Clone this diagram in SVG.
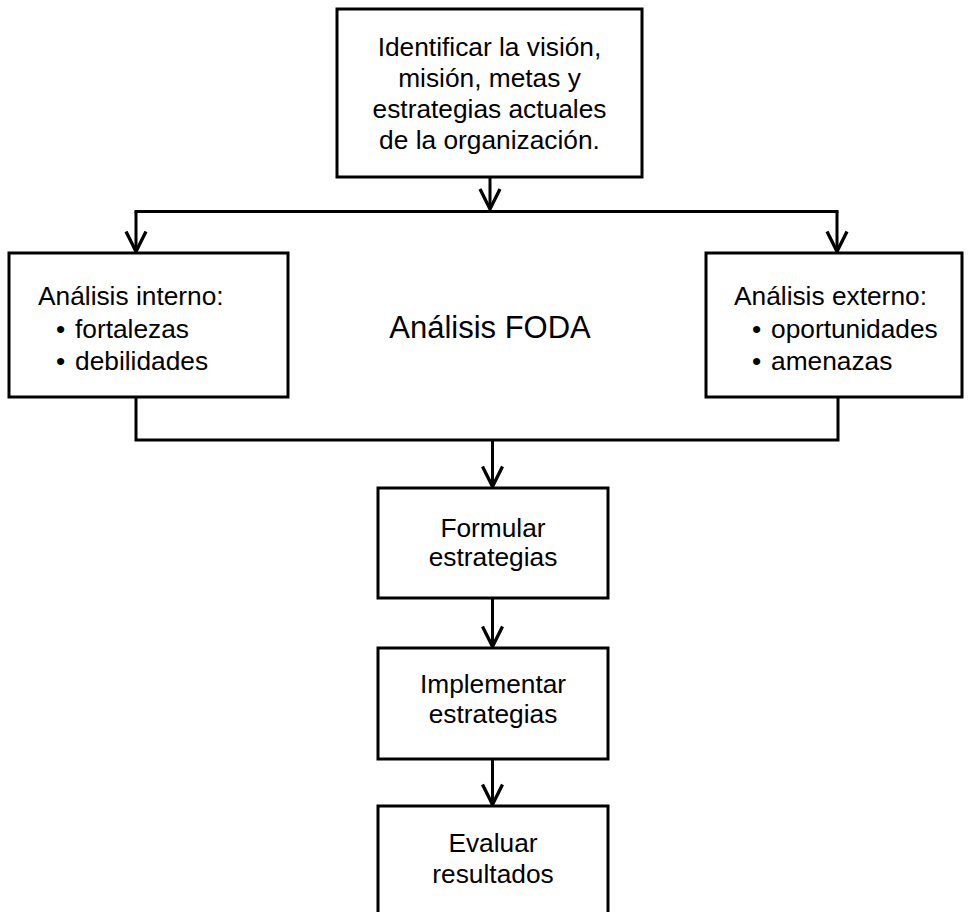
<svg xmlns="http://www.w3.org/2000/svg" width="972" height="912" viewBox="0 0 972 912">
  <style>
    .box { fill: #ffffff; stroke: #000000; stroke-width: 3; }
    .conn { fill: none; stroke: #000000; stroke-width: 3; }
    .t { font-family: "Liberation Sans", Arial, sans-serif; font-size: 26.3px; fill: #000000; }
    .c { text-anchor: middle; }
    .big { font-family: "Liberation Sans", Arial, sans-serif; font-size: 31px; fill: #000000; text-anchor: middle; }
  </style>
  <defs>
    <marker id="arrow" markerUnits="userSpaceOnUse" markerWidth="40" markerHeight="40" refX="0" refY="0" orient="auto" overflow="visible">
      <path d="M -20 -10 L 0 0 L -20 10" fill="none" stroke="#000000" stroke-width="3.3" stroke-linejoin="miter"/>
    </marker>
  </defs>
  <rect width="972" height="912" fill="#ffffff"/>

  <g id="connectors">
    <path class="conn" d="M 134.5 211.5 L 838.5 211.5"/>
    <path class="conn" d="M 136 211.5 L 136 251.5" marker-end="url(#arrow)"/>
    <path class="conn" d="M 837 211.5 L 837 251.5" marker-end="url(#arrow)"/>
    <path class="conn" d="M 490 177 L 490 209" marker-end="url(#arrow)"/>
    <path class="conn" d="M 136 397 L 136 440 L 838 440 L 838 397"/>
    <path class="conn" d="M 492.5 440 L 492.5 486.5" marker-end="url(#arrow)"/>
    <path class="conn" d="M 492.5 598 L 492.5 646.5" marker-end="url(#arrow)"/>
    <path class="conn" d="M 492.5 759 L 492.5 804.5" marker-end="url(#arrow)"/>
  </g>

  <g id="node-identificar">
    <rect class="box" x="337" y="9" width="305" height="168"/>
    <text class="t c" x="489.5" y="55.5">Identificar la visión,</text>
    <text class="t c" x="489.5" y="86.5">misión, metas y</text>
    <text class="t c" x="489.5" y="117.5">estrategias actuales</text>
    <text class="t c" x="489.5" y="148.5">de la organización.</text>
  </g>

  <g id="node-interno">
    <rect class="box" x="9" y="253" width="279" height="144"/>
    <text class="t" x="38" y="305">Análisis interno:</text>
    <text class="t" y="338"><tspan x="56">•</tspan><tspan x="75">fortalezas</tspan></text>
    <text class="t" y="370"><tspan x="56">•</tspan><tspan x="75">debilidades</tspan></text>
  </g>

  <g id="node-foda">
    <text class="big" x="490" y="338">Análisis FODA</text>
  </g>

  <g id="node-externo">
    <rect class="box" x="706" y="253" width="256" height="144"/>
    <text class="t" x="734" y="305">Análisis externo:</text>
    <text class="t" y="338"><tspan x="752">•</tspan><tspan x="771">oportunidades</tspan></text>
    <text class="t" y="370"><tspan x="752">•</tspan><tspan x="771">amenazas</tspan></text>
  </g>

  <g id="node-formular">
    <rect class="box" x="378" y="488" width="230" height="110"/>
    <text class="t c" x="493" y="537">Formular</text>
    <text class="t c" x="493" y="566">estrategias</text>
  </g>

  <g id="node-implementar">
    <rect class="box" x="378" y="648" width="230" height="111"/>
    <text class="t c" x="493" y="693">Implementar</text>
    <text class="t c" x="493" y="723">estrategias</text>
  </g>

  <g id="node-evaluar">
    <rect class="box" x="378" y="806" width="230" height="120"/>
    <text class="t c" x="493" y="852">Evaluar</text>
    <text class="t c" x="493" y="883">resultados</text>
  </g>
</svg>
